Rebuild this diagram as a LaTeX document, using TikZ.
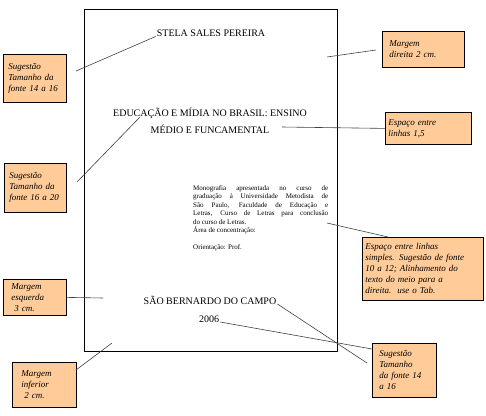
\documentclass[tikz,border=0pt]{standalone}
\usepackage{fontspec}
\setmainfont{Liberation Serif}
\usepackage{tikz}
\usetikzlibrary{positioning,calc}
\definecolor{notafill}{RGB}{255,204,153}

\begin{document}
\begin{tikzpicture}[x=1pt,y=-1pt,
    nota/.style={draw, fill=notafill, anchor=north west, align=left, inner ysep=2pt,
        line width=0.8pt, font=\fontsize{9}{11}\selectfont\itshape},
    capa/.style={anchor=base, inner sep=1pt, font=\fontsize{10}{12}\selectfont},
    guia/.style={black!75, line width=0.6pt}]
    \useasboundingbox (0,0) rectangle (486,415);

    % Page
    \draw[line width=0.8pt] (84,9) rectangle (337,351);

    % Texts on the page
    \node[capa] (stela) at (211,36.5) {STELA SALES PEREIRA};
    \node[capa] (title1) at (210,116) {EDUCAÇÃO E MÍDIA NO BRASIL: ENSINO};
    \node[capa] (title2) at (210,133) {MÉDIO E FUNCAMENTAL};
    \node[anchor=north west, inner sep=0pt, text width=135pt, align=justify,
        font=\fontsize{7}{8.5}\selectfont] (mono) at (193,185)
        {Monografia apresentada no curso de\linebreak
         graduação à Universidade Metodista de\linebreak
         São Paulo, Faculdade de Educação e\linebreak
         Letras, Curso de Letras para conclusão\linebreak
         do curso de Letras.\\
         Área de concentração:\\[8.5pt]
         Orientação: Prof.};
    \node[capa] (sao) at (210,304) {SÃO BERNARDO DO CAMPO};
    \node[capa] (ano) at (209,322) {2006};

    % Notes
    \node[nota, inner xsep=5pt, text width=53pt, minimum height=48pt] (sug1) at (3,54)
        {Sugestão\\Tamanho da\\fonte 14 a 16};
    \node[nota, inner xsep=7pt, text width=68pt, minimum height=36pt] (direita) at (382,31)
        {Margem\\direita 2 cm.};
    \node[nota, inner xsep=3pt, text width=80pt, minimum height=32pt] (linhas) at (385,112)
        {Espaço entre\\linhas 1,5};
    \node[nota, inner xsep=5pt, text width=52pt, minimum height=49pt] (sug2) at (4,163)
        {Sugestão\\Tamanho da\\fonte 16 a 20};
    \node[nota, inner xsep=3pt, text width=115pt, minimum height=63pt] (simples) at (362,237)
        {Espaço entre linhas\\simples. Sugestão de fonte\\10 a 12; Alinhamento do\\texto do meio para a\\direita.\ \ use o Tab.};
    \node[nota, inner xsep=8pt, text width=47pt, minimum height=36pt] (esquerda) at (3,279)
        {Margem\\esquerda\\\ 3 cm.};
    \node[nota, inner xsep=9pt, text width=46pt, minimum height=45pt] (inferior) at (12,362)
        {Margem\\inferior\\\ 2 cm.};
    \node[nota, inner xsep=7pt, text width=50pt, minimum height=54pt] (sug3) at (372,343)
        {Sugestão\\Tamanho\\da fonte 14\\a 16};

    % Free ends of the leaders
    \coordinate (a1) at (76,71);
    \coordinate (a2) at (327,57);  \coordinate (b2) at (376,50);
    \coordinate (a3) at (282,127);
    \coordinate (a4) at (77,182);  \coordinate (b4) at (140,117);
    \coordinate (a5) at (327,223); \coordinate (b5) at (388,237);
    \coordinate (b6) at (103,298);
    \coordinate (a7) at (76,370);  \coordinate (b7) at (112,343);
    \coordinate (b8) at (367,363);
    \coordinate (b9) at (372,349);

    % Leaders
    \draw[guia] (a1) -- (stela.base west);
    \draw[guia] (a2) -- (b2);
    \draw[guia] (a3) -- (linhas.west);
    \draw[guia] (a4) -- (b4);
    \draw[guia] (a5) -- (b5);
    \draw[guia] (esquerda.east) -- (b6);
    \draw[guia] (a7) -- (b7);
    \draw[guia] (sao.base east) -- (b8);
    \draw[guia] (ano.base east) -- (b9);
\end{tikzpicture}
\end{document}
